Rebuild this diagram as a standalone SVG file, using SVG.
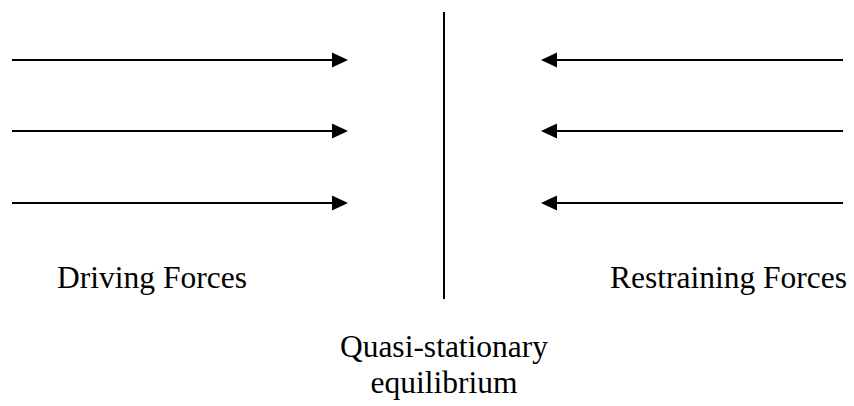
<svg xmlns="http://www.w3.org/2000/svg" width="854" height="406" viewBox="0 0 854 406">
  <style>
    .conn { stroke: #000; stroke-width: 2; fill: none; }
    .lbl { font-family: "Times New Roman", "Liberation Serif", Tinos, "DejaVu Serif", serif; font-size: 31.5px; fill: #000; text-anchor: middle; }
  </style>
  <defs>
    <marker id="ah" markerUnits="userSpaceOnUse" markerWidth="17" markerHeight="16" refX="0" refY="7.5" orient="auto" overflow="visible">
      <path d="M0,0 L16,7.5 L0,15 Z" fill="#000"/>
    </marker>
  </defs>
  <rect width="854" height="406" fill="#fff"/>
  <g id="connectors">
    <line class="conn" x1="12" y1="60" x2="332" y2="60" marker-end="url(#ah)"/>
    <line class="conn" x1="12" y1="131" x2="332" y2="131" marker-end="url(#ah)"/>
    <line class="conn" x1="12" y1="203" x2="332" y2="203" marker-end="url(#ah)"/>
    <line class="conn" x1="843" y1="60" x2="557" y2="60" marker-end="url(#ah)"/>
    <line class="conn" x1="843" y1="131" x2="557" y2="131" marker-end="url(#ah)"/>
    <line class="conn" x1="843" y1="203" x2="557" y2="203" marker-end="url(#ah)"/>
  </g>
  <g id="equilibrium-line">
    <line class="conn" x1="444" y1="12" x2="444" y2="299"/>
  </g>
  <g id="driving">
    <text class="lbl" x="152" y="288">Driving Forces</text>
  </g>
  <g id="restraining">
    <text class="lbl" x="728.5" y="288">Restraining Forces</text>
  </g>
  <g id="quasi">
    <text class="lbl" x="444" y="357">Quasi-stationary</text>
    <text class="lbl" x="444" y="393">equilibrium</text>
  </g>
</svg>
